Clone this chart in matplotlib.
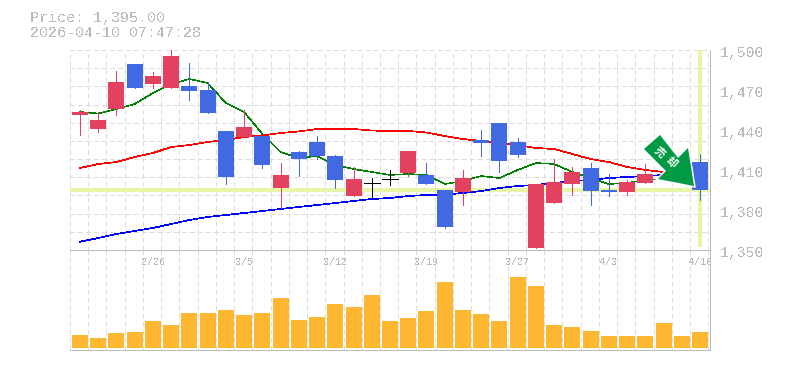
import matplotlib
matplotlib.use("Agg")
import matplotlib.pyplot as plt
from matplotlib.patches import Polygon
from matplotlib.transforms import IdentityTransform

W, H = 785, 370

opens = [1451.25, 1440.75, 1455.75, 1489.5, 1474.5, 1471.5, 1473, 1470, 1439.25, 1434.75, 1435.5, 1396.5,
         1423.5, 1431, 1420.5, 1390.5, 1400.25, 1403.25, 1407.75, 1406.25, 1395, 1393.5, 1432.5, 1445.25,
         1431, 1351.5, 1385.25, 1399.5, 1411.5, 1395, 1393.5, 1400.25, 1419, 1413.75, 1416]
closes = [1453.5, 1447.5, 1476, 1471.5, 1480.5, 1495.5, 1469.25, 1452.75, 1404.75, 1442.25, 1413.75, 1406.25,
          1418.25, 1420.5, 1402.5, 1403.25, 1400.25, 1403.25, 1424.25, 1399.5, 1367.25, 1404, 1430.25, 1416.75,
          1421.25, 1399.5, 1401, 1408.5, 1394.25, 1393.5, 1401, 1407, 1426.5, 1406.25, 1395]
highs = [1455, 1453.5, 1484.25, 1489.5, 1483.5, 1500, 1490.25, 1476, 1439.25, 1455, 1435.5, 1415.25,
         1424.25, 1435.5, 1421.25, 1412.25, 1404, 1410, 1424.25, 1415.25, 1395, 1410, 1440, 1445.25,
         1434, 1399.5, 1418.25, 1412.25, 1415.25, 1407, 1402.5, 1414.5, 1428, 1415, 1422]
lows = [1436.25, 1438.5, 1451.25, 1471.5, 1471.5, 1471.5, 1462.5, 1452.75, 1399.5, 1434.75, 1411.5, 1381.5,
        1405.5, 1418.25, 1396.5, 1390.5, 1388.25, 1398.75, 1405.5, 1399.5, 1366.5, 1383.75, 1420.5, 1408.5,
        1419.75, 1351.5, 1385.25, 1391.25, 1383.75, 1390.5, 1391.25, 1400.25, 1417.5, 1405, 1387.5]

ma_short = [1453.5, 1452.4, 1455.75, 1459.5, 1467.75, 1474.5, 1478.25, 1475.25, 1460.25, 1453.5, 1437, 1423.5,
            1419, 1420.5, 1413.75, 1410.75, 1408.5, 1406.25, 1407, 1406.25, 1399.5, 1401.75, 1405.5, 1404,
            1410, 1415.25, 1414.5, 1408.5, 1404, 1399.5, 1400.25, 1402.5, 1403.25, 1402.5, 1401.75]
ma_mid = [1411.5, 1414.5, 1416, 1419.75, 1422.75, 1427.25, 1428.75, 1431, 1432.5, 1434.75, 1435.9, 1437.75,
          1438.9, 1440.75, 1440.75, 1440.75, 1439.6, 1439.25, 1439.25, 1438.1, 1435.5, 1433.25, 1431.75, 1430.6,
          1428.75, 1426.5, 1425.75, 1422, 1418.25, 1416, 1412.25, 1410, 1408.5, 1407, 1406.25]
ma_long = [1356.2, 1359, 1362, 1364.25, 1366.5, 1369.5, 1372.5, 1374.75, 1376.25, 1377.75, 1379.25, 1380.75,
           1382.25, 1383.75, 1385.25, 1386.75, 1388.25, 1389, 1390.5, 1391.25, 1391.6, 1392.75, 1394.25, 1396.5,
           1398, 1398.75, 1400.25, 1401.75, 1402.5, 1404, 1404.75, 1405.5, 1406.25, 1407, 1408.5]

volumes = [13, 10, 15, 16, 27, 23, 35, 35, 38, 33, 35, 50, 28, 31, 44, 41, 53, 27, 30, 37, 66, 38, 34, 27, 71,
           62, 23, 21, 17, 12, 12, 12, 25, 12, 16]

price_ticks = [1350, 1380, 1410, 1440, 1470, 1500]
price_labels = ["1,350", "1,380", "1,410", "1,440", "1,470", "1,500"]
date_pos = [4, 9, 14, 19, 24, 29, 34]
date_labels = ["2/26", "3/5", "3/12", "3/19", "3/27", "4/3", "4/10"]
last_price = 1395

RED, BLUE = "#e2425f", "#4169e1"
GRID, AXIS, TEXT = "#dddddd", "#bbbbbb", "#bbbbbb"
MARK = "#e6f5a8"
PX = 0.72  # one pixel in points at dpi 100
BODY = 0.877
XLIM = (-0.548, 34.548)
n = len(opens)
x = list(range(n))
grid_x = [XLIM[0] + k for k in range(n + 1)]

plt.rcParams["font.family"] = ["Liberation Mono", "DejaVu Sans Mono"]
plt.rcParams["lines.scale_dashes"] = False
plt.rcParams["text.antialiased"] = False

fig = plt.figure(figsize=(W / 100, H / 100), dpi=100, facecolor="white")
ax = fig.add_axes([70 / W, 1 - 250 / H, 640 / W, 200 / H])
vol = fig.add_axes([70 / W, 1 - 350 / H, 640 / W, 100 / H])


def frame(a):
    a.set_xlim(*XLIM)
    a.set_xticks(grid_x)
    a.tick_params(length=0, labelbottom=False, labelleft=False)
    a.grid(axis="x", color=GRID, lw=PX, ls=(0, (3, 2.4)), antialiased=False)
    a.set_axisbelow(True)
    for side in ("left", "top"):
        a.spines[side].set_visible(False)
    for side in ("right", "bottom"):
        a.spines[side].set_color(AXIS)
        a.spines[side].set_linewidth(PX)


frame(ax)
ax.set_ylim(1350, 1500)
ax.set_yticks([1350 + k * 150 / 11 for k in range(1, 12)])
ax.grid(axis="y", color=GRID, lw=PX, ls=(0, (3, 2.4)), antialiased=False)

ax.axhline(last_price, color=MARK, lw=2.9, zorder=1.5)
ax.plot([34, 34], [1352, 1500], color=MARK, lw=2.9, zorder=1.5, solid_capstyle="butt")

ax.plot(x, ma_short, color="#008000", lw=0.4, zorder=2, antialiased=False)
ax.plot(x, ma_mid, color="#ff0000", lw=0.5, zorder=2, antialiased=False)
ax.plot(x, ma_long, color="#0000ff", lw=0.5, zorder=2, antialiased=False)

for i in x:
    o, c = opens[i], closes[i]
    col = RED if c > o else BLUE if c < o else "black"
    ax.plot([i, i], [lows[i], highs[i]], color=col, lw=PX, zorder=3,
            solid_capstyle="butt", antialiased=False)
    if c == o:
        ax.plot([i - BODY / 2, i + BODY / 2], [o, o], color=col, lw=PX, zorder=3,
                solid_capstyle="butt", antialiased=False)
    else:
        ax.bar(i, abs(c - o), BODY, bottom=min(o, c), color=col, zorder=3, antialiased=False)

for t, lab in zip(price_ticks, price_labels):
    ax.annotate(lab, xy=(1, t), xycoords=("axes fraction", "data"), xytext=(10 * PX, -3.4 * PX),
                textcoords="offset points", ha="left", va="center", color=TEXT, fontsize=10.6)

frame(vol)
vol.set_ylim(-2, 98)
vol.set_yticks([])
vol.spines["top"].set_visible(True)
vol.spines["top"].set_color(AXIS)
vol.spines["top"].set_linewidth(PX)
vol.bar(x, volumes, BODY, color="#ffb732", zorder=3, antialiased=False)
for p, lab in zip(date_pos, date_labels):
    vol.annotate(lab, xy=(p, 1), xycoords=("data", "axes fraction"), xytext=(0, -12 * PX),
                 textcoords="offset points", ha="center", va="center", color=TEXT, fontsize=7.2)

fig.text(30 / W, 1 - 18 / H, "Price: 1,395.00", color=TEXT, fontsize=10.8, va="center")
fig.text(30 / W, 1 - 33 / H, "2026-04-10 07:47:28", color=TEXT, fontsize=10.8, va="center")

# sell arrow, placed in figure pixels: white halo first, green fill over it
arrow_px = [(660, 135), (678, 158), (688, 148), (694, 186), (658, 179), (666, 171), (644, 149)]
arrow_xy = [(px, H - py) for px, py in arrow_px]
fig.add_artist(Polygon(arrow_xy, closed=True, facecolor="white", edgecolor="white", lw=2.2,
                       transform=IdentityTransform(), zorder=5, joinstyle="miter"))
fig.add_artist(Polygon(arrow_xy, closed=True, facecolor="#009944", edgecolor="none",
                       transform=IdentityTransform(), zorder=5.5))
for gx, gy, ch in [(659, 152, "売"), (671, 163, "却")]:
    fig.text(gx / W, 1 - gy / H, ch, color="white", fontsize=7.6, fontweight="bold", antialiased=True,
             family=["Noto Sans CJK JP", "DejaVu Sans"], rotation=-42, rotation_mode="anchor",
             ha="center", va="center", zorder=6)

fig.savefig("out.png", dpi=100)
plt.close(fig)
